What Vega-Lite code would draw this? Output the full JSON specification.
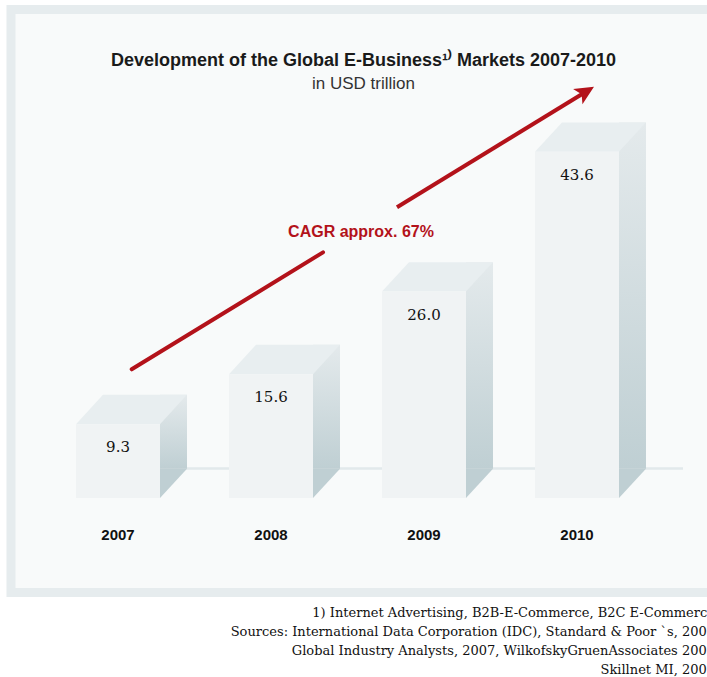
{
  "$schema": "https://vega.github.io/schema/vega-lite/v6.json",
  "width": 705,
  "height": 583,
  "autosize": "none",
  "padding": {"left": 11, "top": 9.5, "right": 0, "bottom": 84.5},
  "background": "#ffffff",
  "view": {"fill": "#f8fafa", "stroke": "#e6ecee", "strokeWidth": 9},
  "title": {
    "text": "Development of the Global E-Business¹⁾ Markets 2007-2010",
    "subtitle": "in USD trillion",
    "anchor": "middle",
    "frame": "group",
    "orient": "top",
    "offset": -82,
    "font": "Liberation Sans",
    "fontSize": 18,
    "fontWeight": "bold",
    "color": "#1a1a1a",
    "subtitleFont": "Liberation Sans",
    "subtitleFontSize": 17,
    "subtitleColor": "#333333",
    "subtitlePadding": 6
  },
  "data": {"values": [
    {"year": "2007", "value": 9.3},
    {"year": "2008", "value": 15.6},
    {"year": "2009", "value": 26.0},
    {"year": "2010", "value": 43.6}
  ]},
  "layer": [
    {
      "data": {"values": [{}]},
      "mark": {"type": "rule", "color": "#e2e9eb", "strokeWidth": 2.5, "yOffset": -29.5, "x2Offset": 106},
      "encoding": {
        "x": {"datum": "2007", "type": "nominal", "axis": null},
        "x2": {"datum": "2010"},
        "y": {"datum": 0, "type": "quantitative", "scale": {"domain": [-11.9, 61.52], "nice": false, "zero": false}, "axis": null}
      }
    },
    {
      "mark": {"type": "bar", "width": 27, "xOffset": 55.5, "yOffset": -29.3, "y2Offset": -29.3,
        "color": {"gradient": "linear", "x1": 0, "y1": 0, "x2": 0, "y2": 1,
          "stops": [{"offset": 0, "color": "#e4eaec"}, {"offset": 1, "color": "#bfcfd3"}]}},
      "encoding": {
        "x": {"field": "year", "type": "nominal", "axis": null},
        "y": {"field": "value", "type": "quantitative", "scale": {"domain": [-11.9, 61.52], "nice": false, "zero": false}, "axis": null},
        "y2": {"datum": 0}
      }
    },
    {
      "mark": {"type": "point", "shape": "M4.2 0 L4.2 -2.93 L6.9 -2.93 Z", "size": 400, "filled": true, "opacity": 1, "color": "#bfcfd3", "strokeWidth": 0},
      "encoding": {
        "x": {"field": "year", "type": "nominal", "axis": null},
        "y": {"datum": 0, "type": "quantitative", "scale": {"domain": [-11.9, 61.52], "nice": false, "zero": false}, "axis": null}
      }
    },
    {
      "mark": {"type": "point", "shape": "M-4.2 0 L4.2 0 L6.9 -2.93 L-1.5 -2.93 Z", "size": 400, "filled": true, "opacity": 1, "color": "#e8eef0", "strokeWidth": 0},
      "encoding": {
        "x": {"field": "year", "type": "nominal", "axis": null},
        "y": {"field": "value", "type": "quantitative", "scale": {"domain": [-11.9, 61.52], "nice": false, "zero": false}, "axis": null}
      }
    },
    {
      "mark": {"type": "bar", "width": 84, "color": "#f0f3f4"},
      "encoding": {
        "x": {"field": "year", "type": "nominal",
          "scale": {"type": "band", "paddingInner": 0, "paddingOuter": 0.304, "align": 0.328},
          "axis": null},
        "y": {"field": "value", "type": "quantitative", "scale": {"domain": [-11.9, 61.52], "nice": false, "zero": false}, "axis": null},
        "y2": {"datum": 0}
      }
    },
    {
      "mark": {"type": "text", "font": "DejaVu Serif", "fontSize": 15, "yOffset": 23, "baseline": "middle", "align": "center", "color": "#111111"},
      "encoding": {
        "x": {"field": "year", "type": "nominal", "axis": null},
        "y": {"field": "value", "type": "quantitative", "scale": {"domain": [-11.9, 61.52], "nice": false, "zero": false}, "axis": null},
        "text": {"field": "value", "type": "quantitative", "format": ".1f"}
      }
    },
    {
      "mark": {"type": "text", "font": "Liberation Sans", "fontSize": 15, "fontWeight": "bold", "yOffset": 37, "baseline": "middle", "align": "center", "color": "#111111"},
      "encoding": {
        "x": {"field": "year", "type": "nominal", "axis": null},
        "y": {"datum": 0, "type": "quantitative", "scale": {"domain": [-11.9, 61.52], "nice": false, "zero": false}, "axis": null},
        "text": {"field": "year", "type": "nominal"}
      }
    },
    {
      "data": {"values": [{}]},
      "mark": {"type": "rule", "color": "#b3121a", "strokeWidth": 4, "strokeCap": "round", "xOffset": 13.7, "x2Offset": 52},
      "encoding": {
        "x": {"datum": "2007", "type": "nominal", "axis": null},
        "x2": {"datum": "2008"},
        "y": {"datum": 16.21, "type": "quantitative", "scale": {"domain": [-11.9, 61.52], "nice": false, "zero": false}, "axis": null},
        "y2": {"datum": 30.93}
      }
    },
    {
      "data": {"values": [{}]},
      "mark": {"type": "rule", "color": "#b3121a", "strokeWidth": 4, "strokeCap": "butt", "xOffset": -27, "x2Offset": 6},
      "encoding": {
        "x": {"datum": "2009", "type": "nominal", "axis": null},
        "x2": {"datum": "2010"},
        "y": {"datum": 36.62, "type": "quantitative", "scale": {"domain": [-11.9, 61.52], "nice": false, "zero": false}, "axis": null},
        "y2": {"datum": 50.94}
      }
    },
    {
      "data": {"values": [{}]},
      "mark": {"type": "point", "shape": "M0 0 L-1.9 -0.9 L-1.45 0 L-1.9 0.9 Z", "size": 400, "angle": 328.6, "filled": true, "opacity": 1, "color": "#b3121a", "strokeWidth": 0, "xOffset": 17},
      "encoding": {
        "x": {"datum": "2010", "type": "nominal", "axis": null},
        "y": {"datum": 51.8, "type": "quantitative", "scale": {"domain": [-11.9, 61.52], "nice": false, "zero": false}, "axis": null}
      }
    },
    {
      "data": {"values": [{}]},
      "mark": {"type": "text", "text": "CAGR approx. 67%", "font": "Liberation Sans", "fontSize": 16, "fontWeight": "bold", "color": "#b3121a", "baseline": "middle", "align": "center", "xOffset": 90},
      "encoding": {
        "x": {"datum": "2008", "type": "nominal", "axis": null},
        "y": {"datum": 33.5, "type": "quantitative", "scale": {"domain": [-11.9, 61.52], "nice": false, "zero": false}, "axis": null}
      }
    },
    {
      "data": {"values": [{}]},
      "mark": {"type": "text",
        "text": ["1) Internet Advertising, B2B-E-Commerce, B2C E-Commerce", "Sources: International Data Corporation (IDC), Standard & Poor `s, 2007", "Global Industry Analysts, 2007, WilkofskyGruenAssociates 2007", "Skillnet MI, 2007"],
        "font": "DejaVu Serif", "fontSize": 13, "lineHeight": 19, "color": "#111111",
        "align": "right", "baseline": "top", "xOffset": 138, "yOffset": 109},
      "encoding": {
        "x": {"datum": "2010", "type": "nominal", "axis": null},
        "y": {"datum": 0, "type": "quantitative", "scale": {"domain": [-11.9, 61.52], "nice": false, "zero": false}, "axis": null}
      }
    }
  ]
}
